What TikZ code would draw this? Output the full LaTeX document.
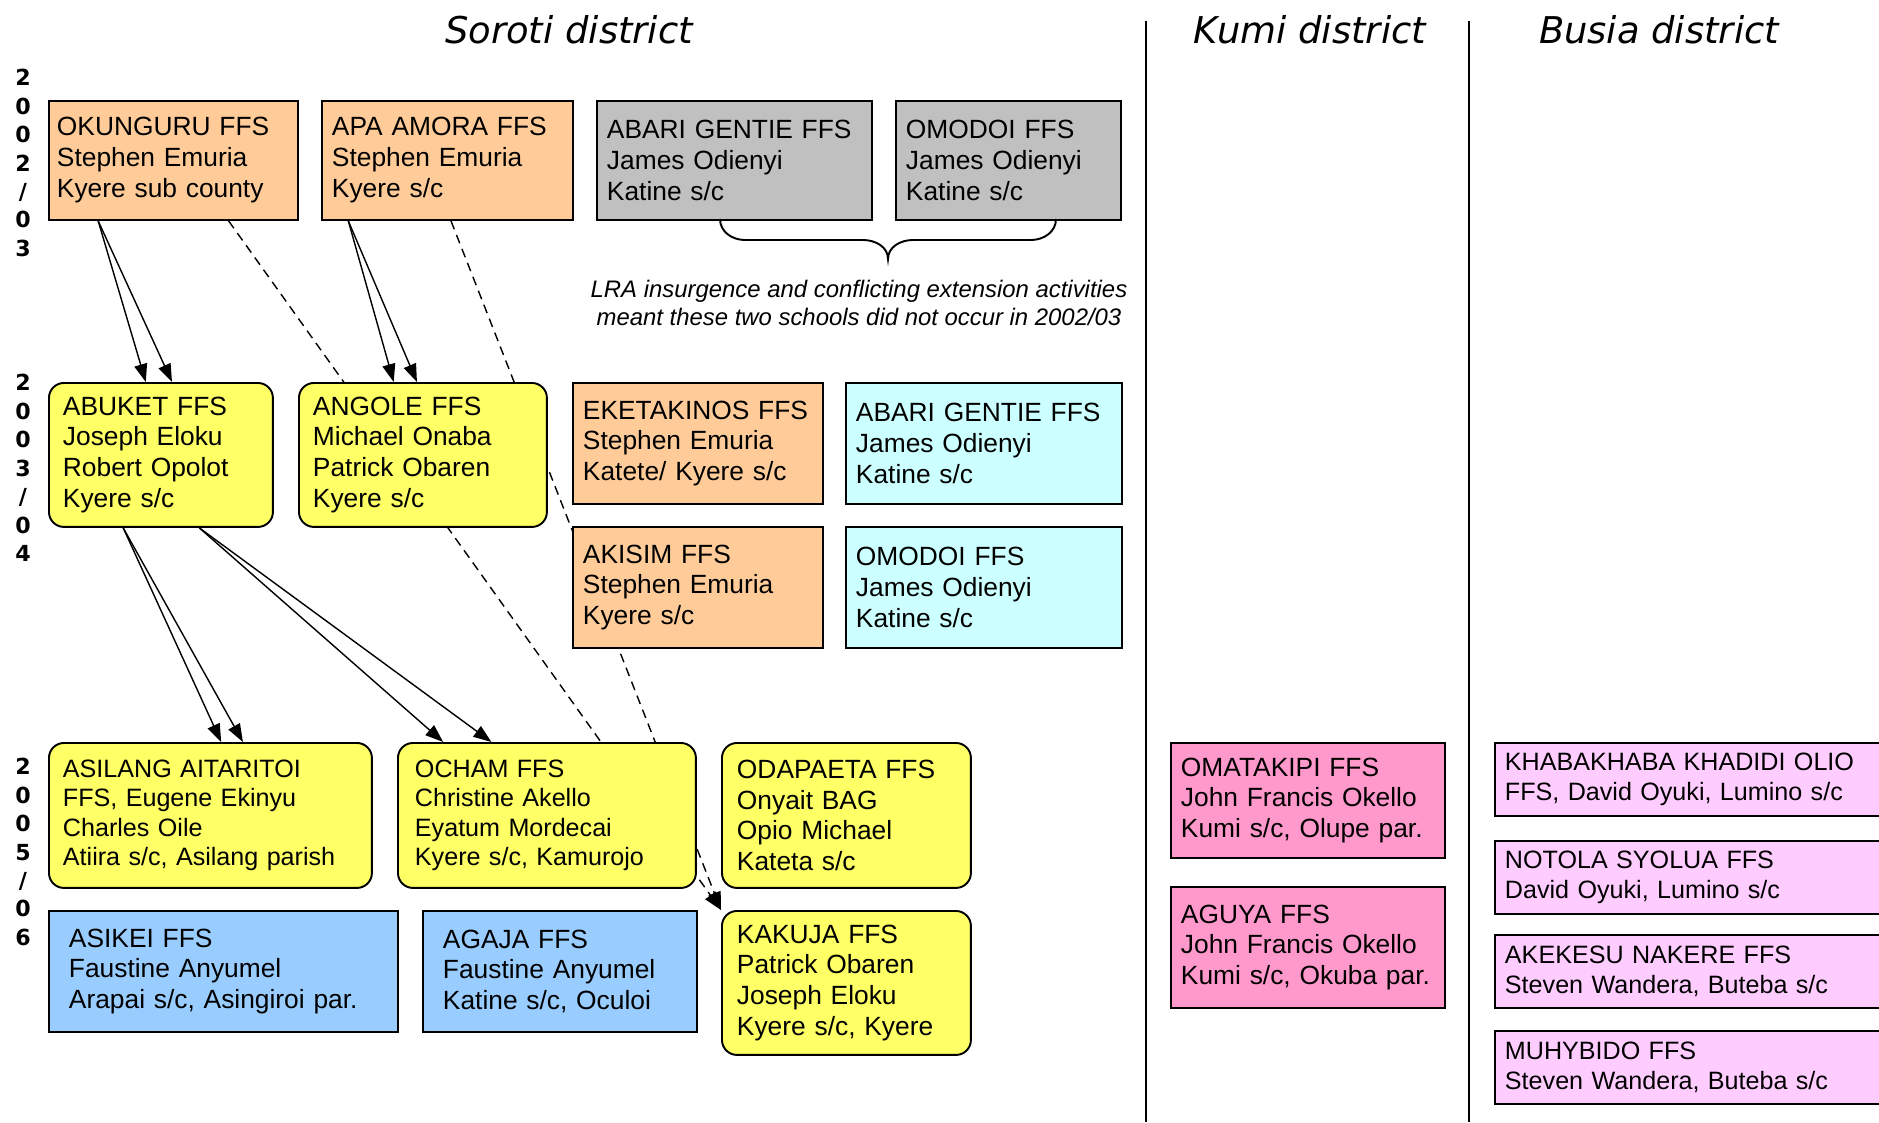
\documentclass[tikz,border=0pt]{standalone}
\usepackage{fontspec}
\setmainfont{Liberation Sans}
\newfontfamily\verdanafont{DejaVu Sans}
\usetikzlibrary{arrows.meta, calc, backgrounds}
\definecolor{ffsorange}{HTML}{FFCC99}
\definecolor{ffsgray}{HTML}{C0C0C0}
\definecolor{ffsyellow}{HTML}{FFFF66}
\definecolor{ffscyan}{HTML}{CCFFFF}
\definecolor{ffsblue}{HTML}{99CCFF}
\definecolor{ffspink}{HTML}{FF99CC}
\definecolor{ffslilac}{HTML}{FFCCFF}

\begin{document}
\begin{tikzpicture}[x=0.02cm, y=-0.02cm, >={Triangle[length=0.36cm, width=0.26cm]},
  ffs/.style={draw=black, line width=1.1pt, anchor=north west, align=left, inner xsep=0.2cm, inner ysep=0pt, font=\fontsize{15}{17.6}\selectfont},
  smalltext/.style={font=\fontsize{14.3}{16.7}\selectfont},
  orangebox/.style={ffs, fill=ffsorange},
  graybox/.style={ffs, fill=ffsgray},
  yellowbox/.style={ffs, fill=ffsyellow, rounded corners=0.3cm},
  cyanbox/.style={ffs, fill=ffscyan},
  bluebox/.style={ffs, fill=ffsblue},
  pinkbox/.style={ffs, fill=ffspink},
  lilacbox/.style={ffs, fill=ffslilac, smalltext},
  district/.style={font=\verdanafont\itshape\fontsize{21}{24}\selectfont, inner sep=0pt},
  yearlab/.style={font=\verdanafont\bfseries\fontsize{12.6}{16.2}\selectfont, align=center, inner sep=0pt},
  note/.style={font=\itshape\fontsize{13.6}{16.4}\selectfont, align=center, inner sep=0pt},
  arr/.style={->, line width=0.8pt},
  dashline/.style={->, line width=0.8pt, dash pattern=on 0.18cm off 0.12cm},
  sepline/.style={line width=1pt}]
\useasboundingbox (0,0) rectangle (1879,1122);
\clip (0,0) rectangle (1879,1122);
% headings and years
\node[district] (soroti) at (569,30) {Soroti district};
\node[district] (kumi)   at (1310,30) {Kumi district};
\node[district] (busia)  at (1659,30) {Busia district};
\draw[sepline] (1146,21) -- (1146,1122);
\draw[sepline] (1469,21) -- (1469,1122);
\node[yearlab] (yrone)   at (23,163) {2\\0\\0\\2\\/\\0\\3};
\node[yearlab] (yrtwo)   at (23,468) {2\\0\\0\\3\\/\\0\\4};
\node[yearlab] (yrthree) at (23,852) {2\\0\\0\\5\\/\\0\\6};
% 2002/03
\node[orangebox, text width=4.66cm, inner xsep=0.16cm, minimum height=2.38cm] (okunguru) at (48,100) {OKUNGURU FFS\\Stephen Emuria\\Kyere sub county};
\node[orangebox, text width=4.62cm, minimum height=2.38cm] (apaamora) at (321,100) {APA AMORA FFS\\Stephen Emuria\\Kyere s/c};
\node[graybox, text width=5.1cm, minimum height=2.38cm] (abarione) at (596,100) {ABARI GENTIE FFS\\James Odienyi\\Katine s/c};
\node[graybox, text width=4.1cm, minimum height=2.38cm] (omodoione) at (895,100) {OMODOI FFS\\James Odienyi\\Katine s/c};
\draw[line width=1.1pt] (720,219) to[out=-90, in=180] (745,240) -- (863,240) to[out=0, in=90] (888,259)
  to[out=90, in=180] (913,240) -- (1031,240) to[out=0, in=-90] (1056,219);
\node[note] (lranote) at (859,303) {LRA insurgence and conflicting extension activities\\meant these two schools did not occur in 2002/03};
% 2003/04
\node[yellowbox, text width=3.92cm, inner xsep=0.28cm, minimum height=2.88cm] (abuket) at (48,382) {ABUKET FFS\\Joseph Eloku\\Robert Opolot\\Kyere s/c};
\node[yellowbox, text width=4.4cm, inner xsep=0.28cm, minimum height=2.88cm] (angole) at (298,382) {ANGOLE FFS\\Michael Onaba\\Patrick Obaren\\Kyere s/c};
\node[orangebox, text width=4.6cm, minimum height=2.42cm] (eketakinos) at (572,382) {EKETAKINOS~FFS\\Stephen Emuria\\Katete/ Kyere s/c};
\node[cyanbox, text width=5.12cm, minimum height=2.42cm] (abaritwo) at (845,382) {ABARI GENTIE FFS\\James Odienyi\\Katine s/c};
\node[orangebox, text width=4.6cm, minimum height=2.42cm] (akisim) at (572,526) {AKISIM FFS\\Stephen Emuria\\Kyere s/c};
\node[cyanbox, text width=5.12cm, minimum height=2.42cm] (omodoitwo) at (845,526) {OMODOI FFS\\James Odienyi\\Katine s/c};
% 2005/06
\node[yellowbox, smalltext, text width=5.9cm, inner xsep=0.28cm, minimum height=2.9cm] (asilang) at (48,742) {ASILANG AITARITOI\\FFS, Eugene Ekinyu\\Charles Oile\\Atiira s/c, Asilang parish};
\node[yellowbox, smalltext, text width=5.28cm, inner xsep=0.34cm, minimum height=2.9cm] (ocham) at (397,742) {OCHAM FFS\\Christine Akello\\Eyatum Mordecai\\Kyere s/c, Kamurojo};
\node[yellowbox, text width=4.38cm, inner xsep=0.3cm, minimum height=2.9cm] (odapaeta) at (721,742) {ODAPAETA FFS\\Onyait BAG\\Opio Michael\\Kateta s/c};
\node[bluebox, text width=6.18cm, inner xsep=0.4cm, minimum height=2.42cm] (asikei) at (48,910) {ASIKEI FFS\\Faustine Anyumel\\Arapai s/c, Asingiroi par.};
\node[bluebox, text width=4.68cm, inner xsep=0.4cm, minimum height=2.42cm] (agaja) at (422,910) {AGAJA FFS\\Faustine Anyumel\\Katine s/c, Oculoi};
\node[yellowbox, text width=4.38cm, inner xsep=0.3cm, minimum height=2.88cm] (kakuja) at (721,910) {KAKUJA FFS\\Patrick Obaren\\Joseph Eloku\\Kyere s/c, Kyere};
% Kumi and Busia
\node[pinkbox, text width=5.08cm, minimum height=2.3cm] (omatakipi) at (1170,742) {OMATAKIPI FFS\\John Francis Okello\\Kumi~s/c,~Olupe~par.};
\node[pinkbox, text width=5.08cm, minimum height=2.42cm] (aguya) at (1170,886) {AGUYA FFS\\John Francis Okello\\Kumi~s/c,~Okuba~par.};
\node[lilacbox, text width=7.6cm, minimum height=1.46cm] (khaba) at (1494,742) {KHABAKHABA KHADIDI OLIO\\FFS, David Oyuki, Lumino s/c};
\node[lilacbox, text width=7.6cm, minimum height=1.46cm] (notola) at (1494,840) {NOTOLA SYOLUA FFS\\David Oyuki, Lumino s/c};
\node[lilacbox, text width=7.6cm, minimum height=1.46cm] (akekesu) at (1494,934) {AKEKESU NAKERE FFS\\Steven Wandera, Buteba s/c};
\node[lilacbox, text width=7.6cm, minimum height=1.46cm] (muhybido) at (1494,1030) {MUHYBIDO FFS\\Steven Wandera, Buteba s/c};
% follow-on schools
\foreach \f in {0.433,0.549} \draw[arr] ($(okunguru.south west)!0.2!(okunguru.south east)$) -- ($(abuket.north west)!\f!(abuket.north east)$);
\foreach \f in {0.383,0.476} \draw[arr] ($(apaamora.south west)!0.108!(apaamora.south east)$) -- ($(angole.north west)!\f!(angole.north east)$);
\foreach \f in {0.533,0.6} \draw[arr] ($(abuket.south west)!0.333!(abuket.south east)$) -- ($(asilang.north west)!\f!(asilang.north east)$);
\foreach \f in {0.154,0.315} \draw[arr] ($(abuket.south west)!0.67!(abuket.south east)$) -- ($(ocham.north west)!\f!(ocham.north east)$);
% dashed links run behind the boxes
\begin{scope}[on background layer]
\draw[dashline] ($(okunguru.south west)!0.72!(okunguru.south east)$) -- (kakuja.north west);
\draw[dashline] ($(apaamora.south west)!0.514!(apaamora.south east)$) -- (kakuja.north west);
\end{scope}
\end{tikzpicture}
\end{document}
